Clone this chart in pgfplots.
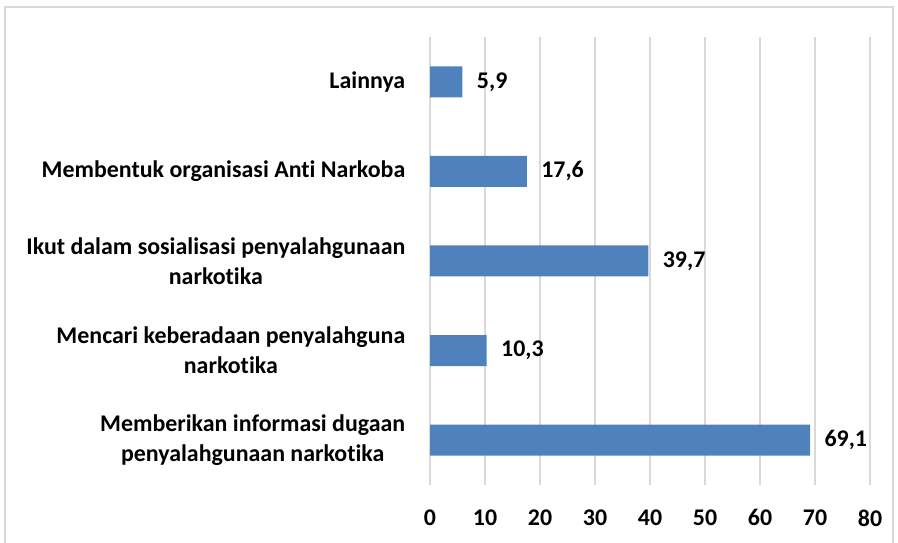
\documentclass[border=0pt]{standalone}
\usepackage{pgfplots}
\pgfplotsset{compat=1.18}
\usepackage{fontspec}
\setmainfont{Carlito}[Ligatures={NoCommon}]
\definecolor{barblue}{HTML}{4F81BD}
\definecolor{gridgray}{HTML}{D9D9D9}
\begin{document}
\begin{tikzpicture}[x=1bp,y=1bp]
\useasboundingbox (0,0) rectangle (898,543);
\draw[color=gridgray, line width=1.2bp] (5,-10) rectangle (893,536);
\begin{axis}[
  at={(430bp,58bp)}, anchor=south west,
  scale only axis, width=440bp, height=448bp,
  xbar, xmin=0, xmax=80, ymin=0.5, ymax=5.5,
  bar width=31bp,
  xtick={0,10,...,80}, ytick={1,2,3,4,5},
  yticklabels={{Memberikan informasi dugaan\\penyalahgunaan narkotika},
               {Mencari keberadaan penyalahguna\\narkotika},
               {Ikut dalam sosialisasi penyalahgunaan\\narkotika},
               {Membentuk organisasi Anti Narkoba},
               {Lainnya}},
  axis line style={draw=none},
  tick style={draw=none},
  xmajorgrids, major grid style={gridgray, line width=1.2bp},
  /pgf/number format/assume math mode=true,
  yticklabel style={font=\fontsize{24}{30}\selectfont\bfseries, align=center, anchor=east, xshift=-17bp},
  xticklabel style={font=\fontsize{24}{28}\selectfont\bfseries, yshift=-21bp},
  nodes near coords,
  nodes near coords style={font=\fontsize{24}{28}\selectfont\bfseries, xshift=11bp,
    /pgf/number format/.cd, fixed, fixed zerofill, precision=1, use comma, assume math mode=true},
]
\addplot[fill=barblue, draw=none] coordinates {(69.1,1) (10.3,2) (39.7,3) (17.6,4) (5.9,5)};
\end{axis}
\end{tikzpicture}
\end{document}
